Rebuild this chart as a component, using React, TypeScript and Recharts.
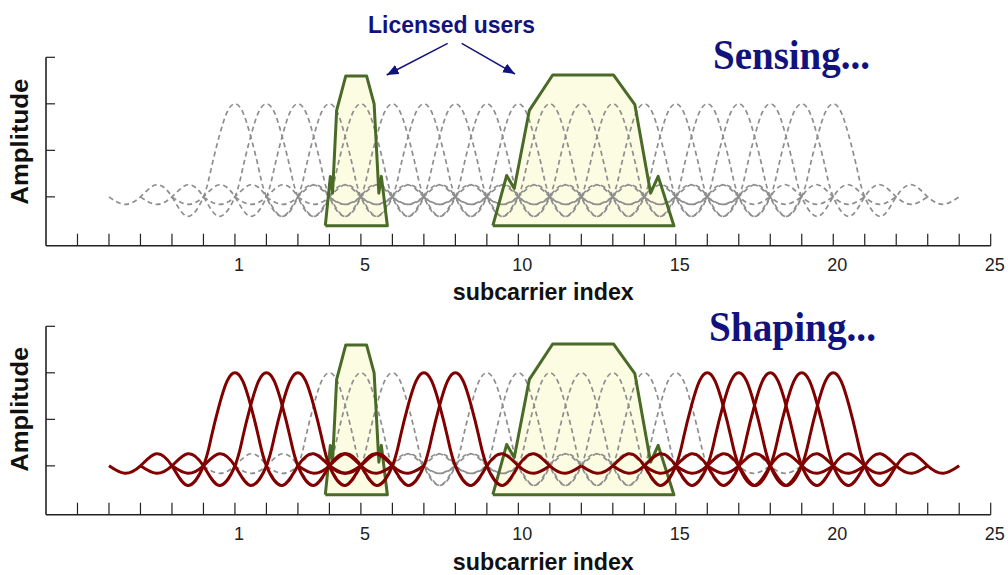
import React from 'react';
import { ComposedChart, Line, Area, XAxis, YAxis } from 'recharts';

// ---- data ----
const subcarrierCentres = [1, 2, 3, 4, 5, 6, 7, 8, 9, 10, 11, 12, 13, 14, 15, 16, 17, 18, 19, 20];
const shapedActive = [1, 2, 3, 7, 8, 16, 17, 18, 19, 20];
const shapedNulled = [4, 5, 6, 9, 10, 11, 12, 13, 14, 15];

// one subcarrier's spectrum (offset from its centre, amplitude)
const pulseOffsets = [-4, -3.5, -3, -2.5, -2, -1.5, -1, -0.75, -0.5, -0.25, 0, 0.25, 0.5, 0.75, 1, 1.5, 2, 2.5, 3, 3.5, 4];
const pulseAmplitudes = [0, -0.08, 0, 0.13, 0, -0.21, 0, 0.31, 0.65, 0.91, 1, 0.91, 0.65, 0.31, 0, -0.21, 0, 0.13, 0, -0.08, 0];

// licensed users' spectra (outline vertices)
const user1X = [3.87, 4.03, 4.1, 4.23, 4.52, 5.18, 5.42, 5.57, 5.65, 5.84];
const user1Y = [-0.31, 0.22, 0.04, 0.93, 1.3, 1.3, 1.0, 0.04, 0.22, -0.31];
const user2X = [9.19, 9.63, 9.87, 10.35, 11.09, 13.02, 13.7, 14.2, 14.44, 14.94];
const user2Y = [-0.31, 0.23, 0.09, 0.93, 1.31, 1.31, 0.99, 0.04, 0.22, -0.31];
const userFloor = -0.31;

const xTicks = [-4, -3, -2, -1, 0, 1, 2, 3, 4, 5, 6, 7, 8, 9, 10, 11, 12, 13, 14, 15, 16, 17, 18, 19, 20, 21, 22, 23, 24, 25];
const xLabelTicks = [1, 5, 10, 15, 20, 25];
const yTicks = [0, 0.5, 1, 1.5];
const xDomain = [-5, 25];
const yDomain = [-0.525, 1.5];

// ---- helpers building library tables ----
const pulse = (c: number) => pulseOffsets.map((o, i) => ({ x: c + o, y: pulseAmplitudes[i] }));
const polygon = (xs: number[], ys: number[]) => xs.map((x, i) => ({ x, y: ys[i] }));
const closed = (xs: number[], ys: number[]) => [...polygon(xs, ys), { x: xs[0], y: ys[0] }];

const SANS = 'Liberation Sans, Arial, sans-serif';
const SERIF = 'Liberation Serif, Times New Roman, serif';
const NAVY = '#12127e';
const GREEN = '#4a6a28';
const FILL = '#fcfce2';
const GRAY = '#8e8e8e';
const RED = '#800000';

function Panel({ dashed, solid }: { dashed: number[]; solid: number[] }) {
  return (
    <ComposedChart width={1008} height={300} margin={{ top: 57.3, right: 17.3, bottom: 14.3, left: 0 }}>
      <XAxis
        type="number"
        dataKey="x"
        domain={xDomain}
        ticks={xTicks}
        interval={0}
        allowDataOverflow
        height={40}
        tickSize={-12}
        tickMargin={25}
        tickFormatter={(v: number) => (xLabelTicks.includes(v) ? String(v) : '')}
        tick={{ fontSize: 18, fill: '#222', dx: 4, fontFamily: SANS }}
        axisLine={{ stroke: '#222', strokeWidth: 1.6 }}
        tickLine={{ stroke: '#222', strokeWidth: 1.2 }}
      />
      <YAxis
        type="number"
        domain={yDomain}
        ticks={yTicks}
        interval={0}
        allowDataOverflow
        width={46}
        tickSize={-9}
        tickFormatter={() => ''}
        axisLine={{ stroke: '#222', strokeWidth: 1.6 }}
        tickLine={{ stroke: '#222', strokeWidth: 1.2 }}
      />
      <Area data={polygon(user1X, user1Y)} dataKey="y" type="linear" baseValue={userFloor} stroke="none" fill={FILL} fillOpacity={1} isAnimationActive={false} dot={false} activeDot={false} />
      <Area data={polygon(user2X, user2Y)} dataKey="y" type="linear" baseValue={userFloor} stroke="none" fill={FILL} fillOpacity={1} isAnimationActive={false} dot={false} activeDot={false} />
      {dashed.map((c) => (
        <Line key={'d' + c} data={pulse(c)} dataKey="y" type="natural" stroke={GRAY} strokeWidth={1.7} strokeDasharray="5 3.5" dot={false} activeDot={false} isAnimationActive={false} />
      ))}
      <Line data={closed(user1X, user1Y)} dataKey="y" type="linear" stroke={GREEN} strokeWidth={3} strokeLinejoin="round" dot={false} activeDot={false} isAnimationActive={false} />
      <Line data={closed(user2X, user2Y)} dataKey="y" type="linear" stroke={GREEN} strokeWidth={3} strokeLinejoin="round" dot={false} activeDot={false} isAnimationActive={false} />
      {solid.map((c) => (
        <Line key={'s' + c} data={pulse(c)} dataKey="y" type="natural" stroke={RED} strokeWidth={3} dot={false} activeDot={false} isAnimationActive={false} />
      ))}
    </ComposedChart>
  );
}

export default function App() {
  return (
    <div style={{ position: 'absolute', left: 0, top: 0, width: 1008, height: 575, background: '#fff', overflow: 'hidden' }}>
      <div style={{ position: 'absolute', left: 0, top: 0 }}>
        <Panel dashed={subcarrierCentres} solid={[]} />
      </div>
      <div style={{ position: 'absolute', left: 0, top: 269 }}>
        <Panel dashed={shapedNulled} solid={shapedActive} />
      </div>
      <svg width={1008} height={575} style={{ position: 'absolute', left: 0, top: 0, pointerEvents: 'none' }}>
        <defs>
          <marker id="ah" viewBox="0 0 12 10" refX="12" refY="5" markerWidth="12" markerHeight="10" markerUnits="userSpaceOnUse" orient="auto">
            <path d="M0,0 L12,5 L0,10 z" fill={NAVY} />
          </marker>
        </defs>
        <text x={368} y={33} fontFamily={SANS} fontWeight="bold" fontSize={24} fill={NAVY} textLength={167} lengthAdjust="spacingAndGlyphs">Licensed users</text>
        <line x1={447.7} y1={43.3} x2={386.7} y2={75} stroke={NAVY} strokeWidth={1.5} markerEnd="url(#ah)" />
        <line x1={461.7} y1={43.3} x2={515} y2={74} stroke={NAVY} strokeWidth={1.5} markerEnd="url(#ah)" />
        <text x={713} y={69.3} fontFamily={SERIF} fontWeight="bold" fontSize={42} fill={NAVY} textLength={157} lengthAdjust="spacingAndGlyphs">Sensing...</text>
        <text x={709} y={340.7} fontFamily={SERIF} fontWeight="bold" fontSize={42} fill={NAVY} textLength={167} lengthAdjust="spacingAndGlyphs">Shaping...</text>
        <text x={543.3} y={300} textAnchor="middle" fontFamily={SANS} fontWeight="bold" fontSize={24} fill="#111" textLength={181} lengthAdjust="spacingAndGlyphs">subcarrier index</text>
        <text x={543.3} y={570} textAnchor="middle" fontFamily={SANS} fontWeight="bold" fontSize={24} fill="#111" textLength={181} lengthAdjust="spacingAndGlyphs">subcarrier index</text>
        <text transform="translate(28.3,141.7) rotate(-90)" textAnchor="middle" fontFamily={SANS} fontWeight="bold" fontSize={24} fill="#111" textLength={126} lengthAdjust="spacingAndGlyphs">Amplitude</text>
        <text transform="translate(28.3,409.2) rotate(-90)" textAnchor="middle" fontFamily={SANS} fontWeight="bold" fontSize={24} fill="#111" textLength={125} lengthAdjust="spacingAndGlyphs">Amplitude</text>
      </svg>
    </div>
  );
}
